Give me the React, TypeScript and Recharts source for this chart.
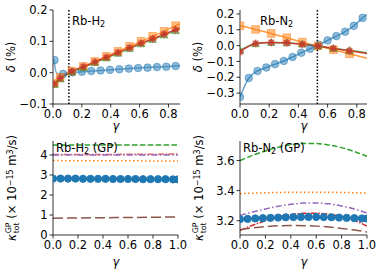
import React from 'react';
import { LineChart, Line, XAxis, YAxis, ReferenceLine } from 'recharts';

// ---------- Data: Rb-H2 (top left) ----------
const h2BlueMarkX = [0.01, 0.07, 0.135, 0.2, 0.265, 0.33, 0.395, 0.46, 0.525, 0.59, 0.655, 0.72, 0.785, 0.85];
const h2BlueMarkY = [0.04, -0.004, 0.001, 0.003, 0.005, 0.007, 0.009, 0.011, 0.013, 0.015, 0.016, 0.018, 0.019, 0.021];
const h2BlueCurveX = [0, 0.01, 0.02, 0.035, 0.07, 0.135, 0.2, 0.33, 0.46, 0.59, 0.72, 0.85, 0.88];
const h2BlueCurveY = [0.045, 0.03, 0.003, -0.004, -0.004, 0.001, 0.003, 0.007, 0.011, 0.015, 0.018, 0.021, 0.022];
const h2MarkX = [0.01, 0.05, 0.13, 0.21, 0.29, 0.37, 0.45, 0.53, 0.61, 0.69, 0.77, 0.85];
const h2OrangeY = [-0.033, -0.015, 0.005, 0.02, 0.036, 0.052, 0.068, 0.084, 0.1, 0.116, 0.132, 0.15];
const h2GreenY = [-0.038, -0.02, 0.002, 0.017, 0.032, 0.047, 0.062, 0.077, 0.092, 0.106, 0.12, 0.134];
const h2RedY = [-0.036, -0.018, 0.004, 0.019, 0.034, 0.049, 0.064, 0.079, 0.094, 0.108, 0.123, 0.137];
const h2EndX = 0.88;
const h2OrangeEnd = 0.156;
const h2GreenEnd = 0.14;
const h2RedEnd = 0.142;
const h2Threshold = 0.11;

// ---------- Data: Rb-N2 (top right) ----------
const n2BlueMarkX = [0, 0.06, 0.12, 0.18, 0.24, 0.3, 0.36, 0.42, 0.48, 0.54, 0.6, 0.66, 0.72, 0.78, 0.84];
const n2BlueMarkY = [-0.325, -0.205, -0.16, -0.138, -0.117, -0.097, -0.072, -0.045, -0.02, 0.005, 0.033, 0.06, 0.088, 0.125, 0.175];
const n2BlueEnd = { x: 0.87, y: 0.198 };
const n2MarkX = [0, 0.107, 0.214, 0.32, 0.427, 0.534, 0.64, 0.75];
const n2OrangeY = [0.125, 0.102, 0.077, 0.05, 0.022, -0.002, -0.026, -0.052];
const n2GreenY = [-0.03, 0.012, 0.02, 0.018, 0.01, -0.003, -0.017, -0.03];
const n2RedY = [-0.04, 0.013, 0.02, 0.017, 0.008, -0.003, -0.018, -0.033];
const n2EndX = 0.87;
const n2OrangeEnd = -0.08;
const n2GreenEnd = -0.045;
const n2RedEnd = -0.05;
const n2Threshold = 0.53;

// ---------- Data: Rb-H2 (GP) (bottom left) ----------
const gpH2X = [0, 0.5, 1];
const gpH2Green = [4.5, 4.5, 4.5];
const gpH2Red = [4.02, 4.03, 4.05];
const gpH2Purple = [4.0, 4.0, 4.0];
const gpH2Orange = [3.72, 3.71, 3.7];
const gpH2Brown = [0.84, 0.87, 0.9];
const gpBlueX = [0, 0.06, 0.12, 0.18, 0.24, 0.3, 0.36, 0.42, 0.48, 0.54, 0.6, 0.66, 0.72, 0.78, 0.84, 0.9, 0.96, 1.0];
const gpH2Blue = [2.82, 2.82, 2.82, 2.82, 2.81, 2.81, 2.81, 2.81, 2.8, 2.8, 2.8, 2.8, 2.79, 2.79, 2.79, 2.79, 2.78, 2.78];

// ---------- Data: Rb-N2 (GP) (bottom right) ----------
const gpN2X = [0, 0.1, 0.2, 0.3, 0.4, 0.5, 0.6, 0.7, 0.8, 0.9, 1.0];
const gpN2Green = [3.6, 3.635, 3.664, 3.688, 3.705, 3.714, 3.713, 3.703, 3.686, 3.66, 3.628];
const gpN2Orange = [3.38, 3.383, 3.386, 3.388, 3.389, 3.39, 3.39, 3.389, 3.388, 3.386, 3.384];
const gpN2Purple = [3.235, 3.258, 3.278, 3.296, 3.309, 3.317, 3.318, 3.312, 3.298, 3.278, 3.25];
const gpN2Red = [3.135, 3.17, 3.2, 3.224, 3.24, 3.249, 3.25, 3.243, 3.228, 3.202, 3.165];
const gpN2Brown = [3.14, 3.152, 3.161, 3.166, 3.168, 3.167, 3.164, 3.158, 3.149, 3.138, 3.125];
const gpN2Blue = [3.21, 3.212, 3.215, 3.217, 3.219, 3.221, 3.223, 3.224, 3.225, 3.225, 3.225, 3.224, 3.223, 3.221, 3.219, 3.217, 3.215, 3.214];

// ---------- Ticks ----------
const xTicksTop = [0, 0.2, 0.4, 0.6, 0.8];
const xTicksBottom = [0, 0.2, 0.4, 0.6, 0.8, 1.0];
const yTicksH2 = [-0.1, 0, 0.1, 0.2];
const yTicksN2 = [-0.3, -0.2, -0.1, 0, 0.1, 0.2];
const yTicksGpH2 = [0, 1, 2, 3, 4];
const yTicksGpN2 = [3.2, 3.4, 3.6];

// ---------- helpers ----------
type P = { x: number; y: number };
const zip = (xs: number[], ys: number[]): P[] => xs.map((x, i) => ({ x, y: ys[i] }));

const C0 = '#1f77b4', C1 = '#ff7f0e', C2 = '#2ca02c', C3 = '#d62728', C4 = '#9467bd', C5 = '#8c564b';
const FONT = '"DejaVu Sans", sans-serif';
const fmt1 = (v: number) => (v < 0 ? '\u2212' : '') + Math.abs(v).toFixed(1);
const fmt0 = (v: number) => String(Math.round(v));

const tickStyle = { fill: '#000', fontSize: 11.5, fontFamily: FONT };
const axisLine = { stroke: '#000', strokeWidth: 0.8 };
const tickLine = { stroke: '#000', strokeWidth: 0.8 };

const MA = 0.5;
const circleDot = (color: string, r: number, op: number) => (p: any) =>
  p.cx == null ? <g key={p.index} /> : (
    <circle key={p.index} cx={p.cx} cy={p.cy} r={r} fill={color} fillOpacity={op} stroke={color} strokeOpacity={op} strokeWidth={1} />
  );
const squareDot = (color: string, s: number, op: number) => (p: any) =>
  p.cx == null ? <g key={p.index} /> : (
    <rect key={p.index} x={p.cx - s} y={p.cy - s} width={2 * s} height={2 * s} fill={color} fillOpacity={op} stroke={color} strokeOpacity={op} strokeWidth={1} />
  );
const triDot = (color: string, s: number, op: number) => (p: any) =>
  p.cx == null ? <g key={p.index} /> : (
    <polygon key={p.index} points={`${p.cx},${p.cy - s} ${p.cx - s},${p.cy + s * 0.8} ${p.cx + s},${p.cy + s * 0.8}`} fill={color} fillOpacity={op} stroke={color} strokeOpacity={op} strokeWidth={1} />
  );
const starDot = (color: string, s: number, op: number) => (p: any) => {
  if (p.cx == null) return <g key={p.index} />;
  const { cx, cy } = p;
  const d = s * 0.72;
  return (
    <path key={p.index}
      d={`M${cx - s},${cy}L${cx + s},${cy}M${cx},${cy - s}L${cx},${cy + s}M${cx - d},${cy - d}L${cx + d},${cy + d}M${cx - d},${cy + d}L${cx + d},${cy - d}`}
      stroke={color} strokeOpacity={0.75} strokeWidth={1.6} fill="none" />
  );
};

const curve = (key: string, data: P[], color: string, opts: any = {}) => (
  <Line key={key} data={data} dataKey="y" type="monotoneX" stroke={color} strokeWidth={opts.w ?? 1.5}
    strokeOpacity={opts.op ?? 1} strokeDasharray={opts.dash} strokeLinecap={opts.cap ?? 'butt'}
    dot={false} activeDot={false} isAnimationActive={false} />
);
const marks = (key: string, data: P[], dot: any) => (
  <Line key={key} data={data} dataKey="y" stroke="none" dot={dot} activeDot={false} isAnimationActive={false} />
);

function Panel(props: any) {
  const { left, top, width, height, margin, yw, xh, xDom, yDom, xTicks, yTicks, yFmt, children } = props;
  return (
    <div style={{ position: 'absolute', left, top }}>
      <LineChart width={width} height={height} margin={margin}>
        <XAxis type="number" dataKey="x" domain={xDom} ticks={xTicks} tickFormatter={fmt1} allowDataOverflow
          height={xh} tick={tickStyle} tickSize={3.5} tickMargin={2} axisLine={axisLine} tickLine={tickLine} interval={0} />
        <YAxis type="number" domain={yDom} ticks={yTicks} tickFormatter={yFmt} allowDataOverflow
          width={yw} tick={tickStyle} tickSize={3.5} tickMargin={2} axisLine={axisLine} tickLine={tickLine} interval={0} />
        <XAxis xAxisId="top" orientation="top" type="number" domain={xDom} height={0} tick={false} tickLine={false}
          axisLine={axisLine} allowDataOverflow />
        <YAxis yAxisId="right" orientation="right" type="number" domain={yDom} width={0} tick={false} tickLine={false}
          axisLine={axisLine} allowDataOverflow />
        {children}
      </LineChart>
    </div>
  );
}

const txt: React.CSSProperties = { position: 'absolute', fontFamily: FONT, fontSize: 11.5, lineHeight: 1, color: '#000', whiteSpace: 'nowrap' };
const centered = (x: number, y: number, rot = false): React.CSSProperties => ({
  ...txt, left: x, top: y, transform: `translate(-50%, -50%)${rot ? ' rotate(-90deg)' : ''}`,
});
const leftMid = (x: number, y: number): React.CSSProperties => ({ ...txt, left: x, top: y, transform: 'translateY(-50%)' });
const subS: React.CSSProperties = { fontSize: '0.7em', verticalAlign: '-0.25em', lineHeight: 0 };
const supS: React.CSSProperties = { fontSize: '0.7em', verticalAlign: '0.45em', lineHeight: 0 };

const Kappa = () => (
  <span>
    <i>κ</i>
    <span style={{ display: 'inline-flex', flexDirection: 'column', fontSize: '0.68em', lineHeight: 1, verticalAlign: 'middle', marginLeft: 1 }}>
      <span>GP</span><span>tot</span>
    </span>
    {' (× 10'}<span style={supS}>−15</span>{' m'}<span style={supS}>3</span>{'/s)'}
  </span>
);

export default function App() {
  const h2Blue = zip(h2BlueMarkX, h2BlueMarkY);
  const h2BlueC = zip(h2BlueCurveX, h2BlueCurveY);
  const h2O = zip(h2MarkX, h2OrangeY), h2G = zip(h2MarkX, h2GreenY), h2R = zip(h2MarkX, h2RedY);
  const n2B = zip(n2BlueMarkX, n2BlueMarkY);
  const n2O = zip(n2MarkX, n2OrangeY), n2G = zip(n2MarkX, n2GreenY), n2R = zip(n2MarkX, n2RedY);

  return (
    <div style={{ position: 'fixed', left: 0, top: 0, width: 381, height: 272, background: '#fff', overflow: 'hidden' }}>
      <Panel left={0} top={0} width={190} height={136} margin={{ top: 10, right: 10, left: 0, bottom: 0 }}
        yw={53} xh={32} xDom={[0, 0.88]} yDom={[-0.1, 0.2]} xTicks={xTicksTop} yTicks={yTicksH2} yFmt={fmt1}>
        <ReferenceLine x={h2Threshold} stroke="#000" strokeWidth={1.5} strokeDasharray="1.5 1.8" ifOverflow="hidden" />
        {curve('hbC', h2BlueC, C0, { op: 0.6 })}
        {marks('hbM', h2Blue, circleDot(C0, 3.8, MA))}
        {curve('hoC', [...h2O, { x: h2EndX, y: h2OrangeEnd }], C1, { op: 0.8 })}
        {marks('hoM', h2O, squareDot(C1, 3.8, MA))}
        {curve('hgC', [...h2G, { x: h2EndX, y: h2GreenEnd }], C2, { op: 0.8 })}
        {marks('hgM', h2G, triDot(C2, 3.8, MA))}
        {curve('hrC', [...h2R, { x: h2EndX, y: h2RedEnd }], C3, { op: 0.85 })}
        {marks('hrM', h2R, starDot(C3, 3.8, MA))}
      </Panel>

      <Panel left={190} top={0} width={191} height={136} margin={{ top: 10, right: 14, left: 0, bottom: 0 }}
        yw={50} xh={32} xDom={[0, 0.87]} yDom={[-0.369, 0.225]} xTicks={xTicksTop} yTicks={yTicksN2} yFmt={fmt1}>
        <ReferenceLine x={n2Threshold} stroke="#000" strokeWidth={1.5} strokeDasharray="1.5 1.8" ifOverflow="hidden" />
        {curve('nbC', [...n2B, n2BlueEnd], C0, { op: 0.7 })}
        {marks('nbM', n2B, circleDot(C0, 3.8, MA))}
        {curve('noC', [...n2O, { x: n2EndX, y: n2OrangeEnd }], C1, { op: 0.8 })}
        {marks('noM', n2O, squareDot(C1, 3.8, MA))}
        {curve('ngC', [...n2G, { x: n2EndX, y: n2GreenEnd }], C2, { op: 0.8 })}
        {marks('ngM', n2G, triDot(C2, 3.8, MA))}
        {curve('nrC', [...n2R, { x: n2EndX, y: n2RedEnd }], C3, { op: 0.85 })}
        {marks('nrM', n2R, starDot(C3, 3.8, MA))}
      </Panel>

      <Panel left={0} top={136} width={190} height={136} margin={{ top: 5, right: 12, left: 0, bottom: 0 }}
        yw={53} xh={37} xDom={[0, 1]} yDom={[0, 4.7]} xTicks={xTicksBottom} yTicks={yTicksGpH2} yFmt={fmt0}>
        {curve('bg', zip(gpH2X, gpH2Green), C2, { dash: '5.5 2.4' })}
        {curve('br', zip(gpH2X, gpH2Red), C3, { dash: '6 1.5 1.5 1.5', op: 0.7 })}
        {curve('bp', zip(gpH2X, gpH2Purple), C4, { dash: '6 2.4 1.5 2.4' })}
        {curve('bo', zip(gpH2X, gpH2Orange), C1, { dash: '1.5 2.5' })}
        {curve('bn', zip(gpH2X, gpH2Brown), C5, { dash: '10 4' })}
        {curve('bb', zip(gpBlueX, gpH2Blue), C0, {})}
        {marks('bbM', zip(gpBlueX, gpH2Blue), circleDot(C0, 3.6, 1))}
      </Panel>

      <Panel left={190} top={136} width={191} height={136} margin={{ top: 5, right: 14, left: 0, bottom: 0 }}
        yw={50} xh={37} xDom={[0, 1]} yDom={[3.105, 3.73]} xTicks={xTicksBottom} yTicks={yTicksGpN2} yFmt={fmt1}>
        {curve('rg', zip(gpN2X, gpN2Green), C2, { dash: '5.5 2.4' })}
        {curve('ro', zip(gpN2X, gpN2Orange), C1, { dash: '1.5 2.5' })}
        {curve('rp', zip(gpN2X, gpN2Purple), C4, { dash: '6 2.4 1.5 2.4' })}
        {curve('rr', zip(gpN2X, gpN2Red), C3, { dash: '6 1.5 1.5 1.5' })}
        {curve('rn', zip(gpN2X, gpN2Brown), C5, { dash: '10 4' })}
        {curve('rb', zip(gpBlueX, gpN2Blue), C0, {})}
        {marks('rbM', zip(gpBlueX, gpN2Blue), circleDot(C0, 3.6, 1))}
      </Panel>

      {/* panel titles */}
      <div style={leftMid(72, 22)}>Rb-H<sub style={subS}>2</sub></div>
      <div style={leftMid(260, 22)}>Rb-N<sub style={subS}>2</sub></div>
      <div style={leftMid(56, 149)}>Rb-H<sub style={subS}>2</sub> (GP)</div>
      <div style={leftMid(243, 149)}>Rb-N<sub style={subS}>2</sub> (GP)</div>

      {/* axis labels */}
      <div style={centered(12, 57, true)}><i>δ</i> (%)</div>
      <div style={centered(199, 57, true)}><i>δ</i> (%)</div>
      <div style={centered(116, 127)}><i>γ</i></div>
      <div style={centered(304, 127)}><i>γ</i></div>
      <div style={centered(116, 263)}><i>γ</i></div>
      <div style={centered(304, 263)}><i>γ</i></div>
      <div style={centered(13, 188, true)}><Kappa /></div>
      <div style={centered(200, 188, true)}><Kappa /></div>
    </div>
  );
}
